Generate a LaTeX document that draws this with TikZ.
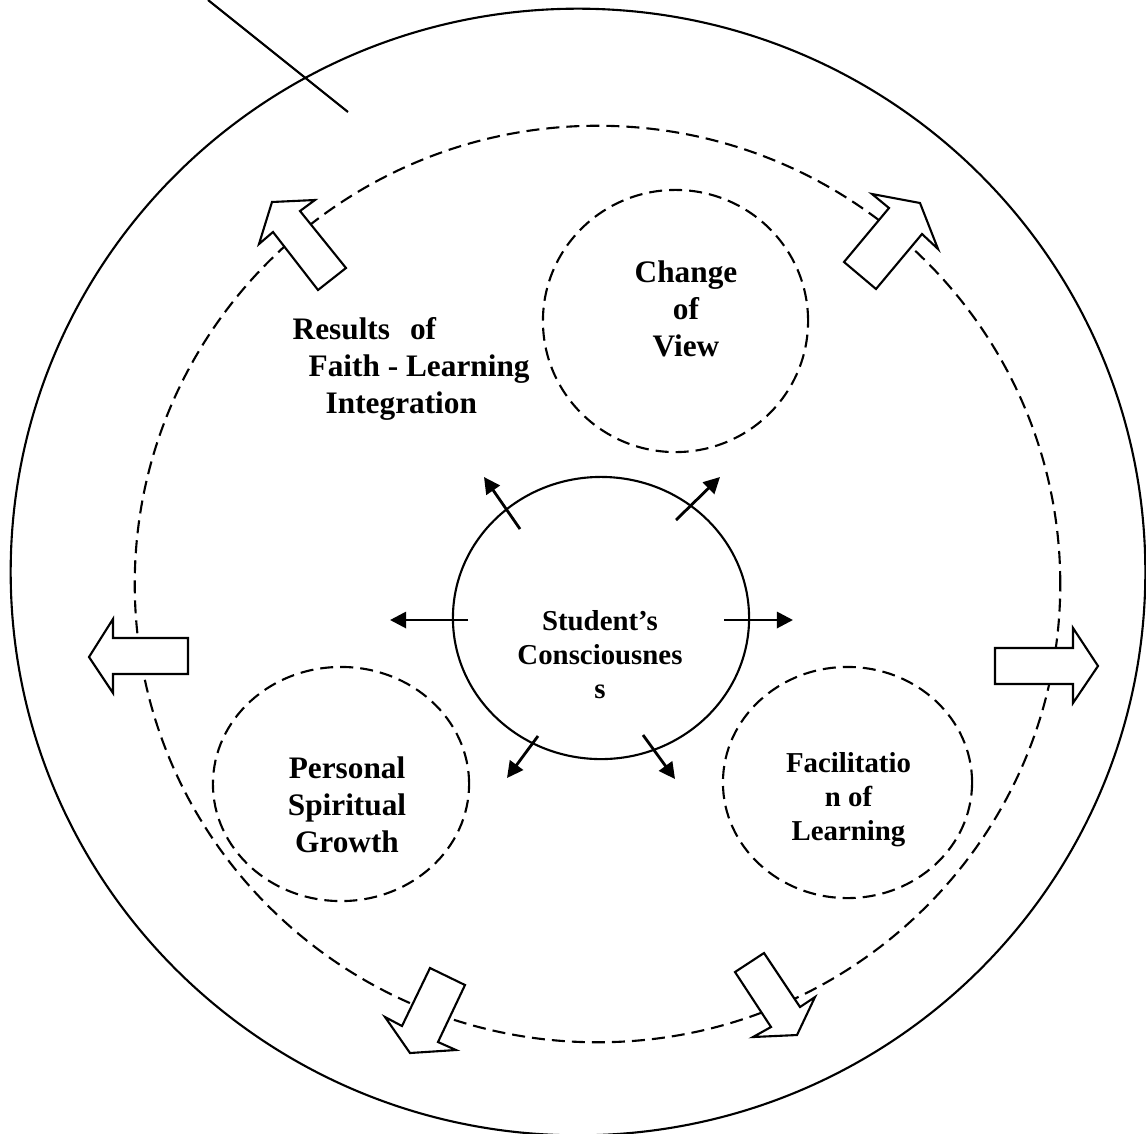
\documentclass[tikz,border=0pt]{standalone}
\usepackage{fontspec}
\setmainfont{Liberation Serif}
\usetikzlibrary{arrows.meta}

\tikzset{
  rim/.style={line width=0.6pt},
  ring/.style={line width=0.6pt,dash pattern=on 3.7pt off 2pt},
  fatarrow/.style={line width=0.6pt,fill=white,line join=miter},
  push/.style={line width=0.8pt,-{Triangle[length=4.6pt,width=4.6pt]}},
  lbl/.style={font=\bfseries\fontsize{8.9}{10.5}\selectfont,align=center,inner sep=0pt,anchor=base},
  lblsm/.style={lbl,font=\bfseries\fontsize{8.2}{9.6}\selectfont}
}

\begin{document}
\begin{tikzpicture}[x=0.01cm,y=-0.01cm]
      \useasboundingbox (0,0) rectangle (1146,1133);
      \coordinate (O) at (578,572);
      \coordinate (D) at (597.5,584);
      \coordinate (S) at (601,618);
      \coordinate (V) at (675.5,321);
      \coordinate (P) at (341,784);
      \coordinate (F) at (847.5,782.5);
      \coordinate (cutA) at (208,0);
      \coordinate (cutB) at (348,112);
      \draw[rim] (O) ellipse [x radius=5.67cm,y radius=5.63cm];
      \draw[rim] (cutA) -- (cutB);
      \draw[ring] (D) ellipse [x radius=4.625cm,y radius=4.58cm];
      \draw[ring] (V) ellipse [x radius=1.325cm,y radius=1.31cm];
      \draw[ring] (P) ellipse [x radius=1.28cm,y radius=1.17cm];
      \draw[ring] (F) ellipse [x radius=1.245cm,y radius=1.155cm];
      \draw[rim] (S) ellipse [x radius=1.48cm,y radius=1.41cm];
      \draw[fatarrow] (272,202) -- (315,200) -- (300,211) -- (346,268) -- (318,290) -- (273,232) -- (259,244) -- cycle;
      \draw[fatarrow] (872,194) -- (920,203) -- (938,249) -- (922,234) -- (876,289) -- (844,262) -- (889,208) -- cycle;
      \draw[fatarrow] (89,657) -- (113,619) -- (113,638) -- (188,638) -- (188,674) -- (113,674) -- (113,693) -- cycle;
      \draw[fatarrow] (995,648) -- (1073,648) -- (1073,628) -- (1098,666) -- (1073,703) -- (1073,684) -- (995,684) -- cycle;
      \draw[fatarrow] (430,968) -- (465,985) -- (438,1042) -- (456,1050) -- (410,1053) -- (385,1017) -- (402,1026) -- cycle;
      \draw[fatarrow] (735,972) -- (764,953) -- (800,1007) -- (815,997) -- (797,1035) -- (753,1037) -- (771,1027) -- cycle;
      \coordinate (nw0) at (520,529);
      \coordinate (nw1) at (484,477);
      \coordinate (ne0) at (676,520);
      \coordinate (ne1) at (720,477);
      \coordinate (w0) at (468,620);
      \coordinate (w1) at (390,620);
      \coordinate (e0) at (724,620);
      \coordinate (e1) at (793,620);
      \coordinate (sw0) at (538,736);
      \coordinate (sw1) at (507,778);
      \coordinate (se0) at (643,735);
      \coordinate (se1) at (675,779);
      \draw[push] (nw0) -- (nw1);
      \draw[push] (ne0) -- (ne1);
      \draw[push] (w0) -- (w1);
      \draw[push] (e0) -- (e1);
      \draw[push] (sw0) -- (sw1);
      \draw[push] (se0) -- (se1);
      \node[lblsm] (student) at (600,698) {Student’s\\Consciousnes\\s};
      \node[lbl] (view) at (686,356) {Change\\of\\View};
      \node[lbl] (growth) at (347,852) {Personal\\Spiritual\\Growth};
      \node[lblsm] (facil) at (848.5,840) {Facilitatio\\n of\\Learning};
      \node[lbl,align=left,anchor=base west] (results) at (292,413)
        {Results\hspace{2mm}of\\\hspace*{1.6mm}Faith - Learning\\\hspace*{3.3mm}Integration};
\end{tikzpicture}
\end{document}
